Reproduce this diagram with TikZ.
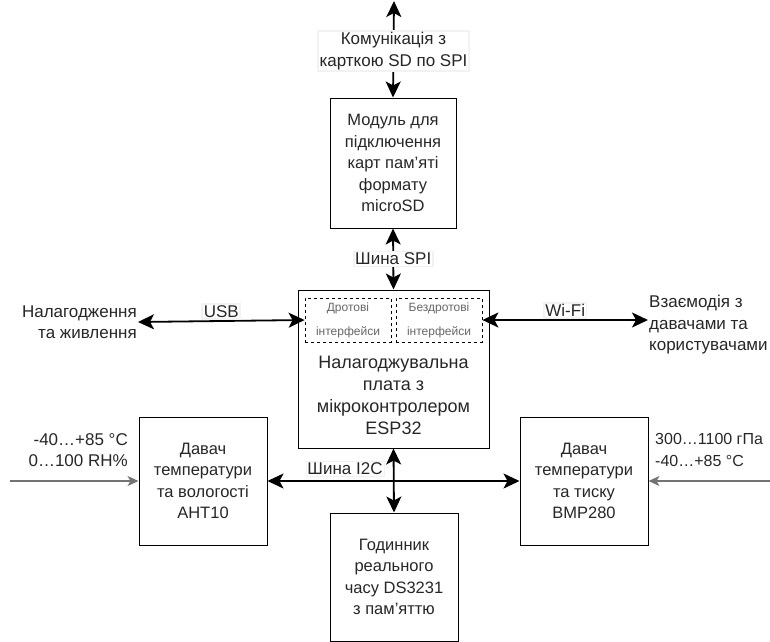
\documentclass[tikz,border=0pt]{standalone}
\usepackage{fontspec}
\setmainfont{Liberation Sans}
\usetikzlibrary{arrows.meta}
\tikzset{
    block/.style={draw, line width=1pt, align=center, minimum width=128pt, minimum height=128pt,
        font=\fontsize{16.5}{21.5}\selectfont, text=black!85},
    iface/.style={draw, dashed, line width=0.8pt, align=center, minimum width=86pt, minimum height=44pt,
        font=\fontsize{12}{24}\selectfont, text=black!60},
    lbl/.style={fill=white, draw=black!5, inner sep=1.5pt, font=\fontsize{17}{21.5}\selectfont, text=black!85},
    txt/.style={inner sep=1pt, font=\fontsize{17}{21.5}\selectfont, text=black!85},
    bus/.style={line width=1.8pt, {Stealth[length=16pt,width=15pt,inset=4pt]}-{Stealth[length=16pt,width=15pt,inset=4pt]}},
    sense/.style={line width=1.2pt, black!55, -{Stealth[length=11pt,width=10pt,inset=3pt]}}
}
\begin{document}
\begin{tikzpicture}[x=1pt, y=-1pt]
    \useasboundingbox (0,0) rectangle (770,641);

    \coordinate (top) at (394,1);
    \coordinate (inL) at (10,481);
    \coordinate (inR) at (770,481);

    % Blocks
    \node[block, minimum width=126pt, minimum height=130pt] (sd) at (393,163)
        {Модуль для\\підключення\\карт пам'яті\\формату\\microSD};
    \node[block, minimum width=191pt, minimum height=158pt] (esp) at (393.5,369) {};
    \node[txt, align=center, font=\fontsize{18}{22}\selectfont] (espt) at (393.5,395)
        {Налагоджувальна\\плата з\\мікроконтролером\\ESP32};
    \node[iface] (wired) at (348,320) {Дротові\\інтерфейси};
    \node[iface] (wireless) at (439,320) {Бездротові\\інтерфейси};
    \node[block] (aht) at (203,481) {Давач\\температури\\та вологості\\AHT10};
    \node[block] (bmp) at (584,481) {Давач\\температури\\та тиску\\BMP280};
    \node[block] (rtc) at (394,577) {Годинник\\реального\\часу DS3231\\з пам'яттю};

    % Side texts
    \node[txt, align=right, anchor=east] (dbg) at (138,322) {Налагодження\\та живлення};
    \node[txt, align=left, anchor=west] (users) at (648,325) {Взаємодія з\\давачами та\\користувачами};
    \node[txt, align=right, anchor=east] (ahtin) at (129,450) {-40…+85 °C\\0…100 RH\%};
    \node[txt, align=left, anchor=west, font=\fontsize{16}{21.5}\selectfont] (bmpin) at (654,450)
        {300…1100 гПа\\-40…+85 °C};

    % Lines
    \draw[bus] (top) -- (sd.north) node[lbl, pos=0.52, align=center] (card) {Комунікація з\\карткою SD по SPI};
    \draw[bus] (sd.south) -- (esp.north) node[lbl, midway] (spi) {Шина SPI};
    \draw[bus] (dbg.east) -- (wired.west) node[lbl, midway, above=1pt] (usb) {USB};
    \draw[bus] (wireless.east) -- (users.west |- wireless.east) node[lbl, midway, above=1pt] (wifi) {Wi-Fi};
    \draw[bus] (aht.east) -- (bmp.west);
    \draw[bus] (esp.south) -- (rtc.north);
    \node[lbl] (i2c) at (345,469) {Шина I2C};
    \draw[sense] (inL) -- (aht.west);
    \draw[sense] (inR) -- (bmp.east);

\end{tikzpicture}
\end{document}
